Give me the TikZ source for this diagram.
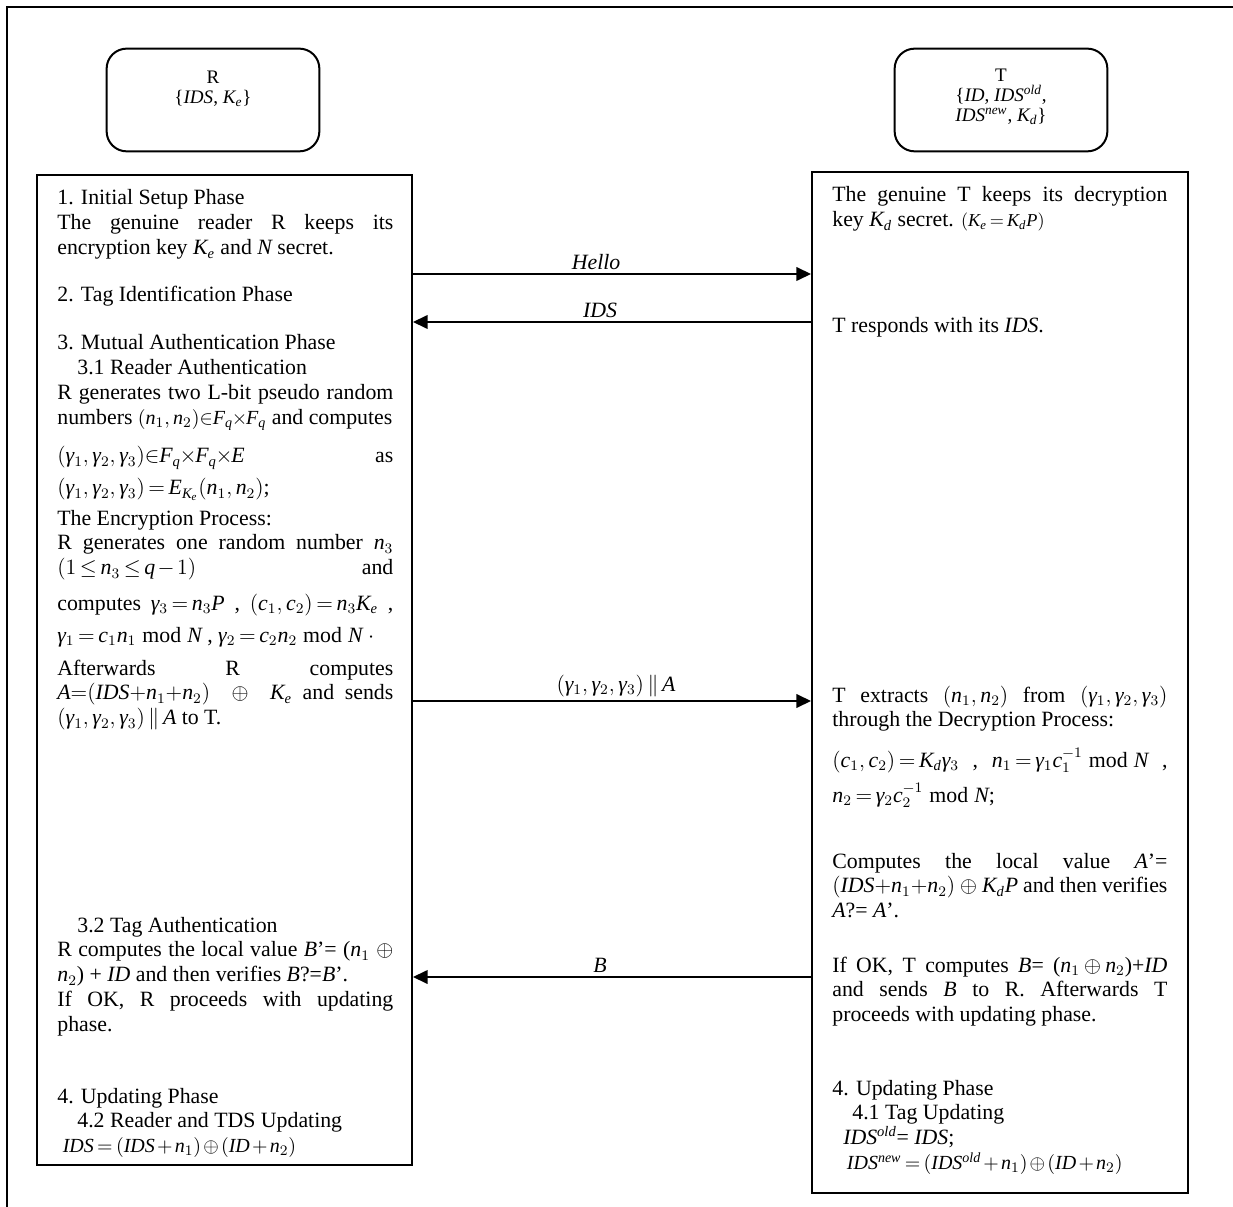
\documentclass[tikz,border=0pt]{standalone}
\usepackage{amsmath}
\usepackage{fontspec}
\setmainfont{Liberation Serif}[NFSSFamily=libser]
\usetikzlibrary{arrows.meta, positioning}

% Times-like letters in math
\DeclareSymbolFont{tletters}{TU}{libser}{m}{it}
\newcount\lcnt
\lcnt=`A \loop \Umathcode\lcnt="7 \symtletters \lcnt \advance\lcnt 1 \ifnum\lcnt<`[ \repeat
\lcnt=`a \loop \Umathcode\lcnt="7 \symtletters \lcnt \advance\lcnt 1 \ifnum\lcnt<`\{ \repeat
\Umathchardef\gamma="0 \symtletters "03B3
\hyphenpenalty=10000

\tikzset{
  phasebox/.style={draw, line width=1.1pt, inner sep=0pt},
  entbox/.style={draw, line width=1.1pt, rounded corners=11pt,
    minimum width=117pt, minimum height=56.5pt, inner sep=0pt},
  enttxt/.style={anchor=north, align=center, inner sep=0pt,
    font=\fontsize{10.5}{11}\selectfont},
  txtl/.style={anchor=base west, inner sep=0pt, text width=184.8pt, align=justify},
  txtr/.style={txtl, text width=184.3pt},
  msg/.style={line width=0.8pt, -{Triangle[length=8pt, width=7.5pt]}},
  msglbl/.style={above, inner sep=2pt, font=\fontsize{12}{13}\selectfont},
}

\begin{document}
\begin{tikzpicture}[x=0.55pt, y=-0.55pt, font=\fontsize{12}{13.7}\selectfont,
    execute at begin picture={\thickmuskip=3mu plus 2mu\medmuskip=2mu plus 1mu}]
  \useasboundingbox (0,0) rectangle (1233,1207);
  % outer frame
  \draw[line width=1.2pt] (7,1207) -- (7,7) -- (1233,7);

  % reader and tag
  \node[entbox] (rdr) at (213,100) {};
  \node[enttxt] (rdrlbl) at (213,71) {R\\\{\textit{IDS}, $K_e$\}};
  \node[entbox] (tag) at (1001,100) {};
  \node[enttxt] (taglbl) at (1001,69)
    {T\\\{\textit{ID}, \textit{IDS}$^{\mathit{old}}$,\\\textit{IDS}$^{\mathit{new}}$, $K_d$\}};

  % phase boxes
  \node[phasebox, minimum width=375*0.55pt, minimum height=990*0.55pt] (lbox) at (224.5,670) {};
  \node[phasebox, minimum width=376*0.55pt, minimum height=1021*0.55pt] (tbox) at (1000,682.5) {};

  % reader side
  \node[txtl] (a1) at (57,205) {1. Initial Setup Phase\par
    The genuine reader R keeps its\linebreak encryption key $K_e$ and $N$ secret.};
  \node[txtl] (a2) at (57,302) {2. Tag Identification Phase};
  \node[txtl] (a3) at (57,350) {3. Mutual Authentication Phase\par
    \hspace*{11pt}3.1 Reader Authentication\par
    R generates two L-bit pseudo random\linebreak
    numbers {\fontsize{11}{13.7}\selectfont$(n_1,n_2)\!\in\! F_q\!\times\! F_q$} and computes};
  \node[txtl] (a4) at (57,463) {$(\gamma_1,\gamma_2,\gamma_3)\!\in\! F_q\!\times\! F_q\!\times\! E$\hfill as};
  \node[txtl] (a5) at (57,495) {$(\gamma_1,\gamma_2,\gamma_3)=E_{K_e}(n_1,n_2)$;};
  \node[txtl] (a6) at (57,525) {The Encryption Process:\par
    R generates one random number $n_3$\linebreak
    $(1\le n_3\le q-1)$\hfill and};
  \node[txtl] (a7) at (57,610) {computes\hfill$\gamma_3=n_3P$\hfill,\hfill$(c_1,c_2)=n_3K_e$\hfill,};
  \node[txtl] (a8) at (57,642) {$\gamma_1=c_1n_1\bmod N$ , $\gamma_2=c_2n_2\bmod N$ $\cdot$};
  \node[txtl] (a9) at (57,675) {Afterwards R computes\linebreak
    $A{=}(\mathit{IDS}{+}n_1{+}n_2)$\ \ $\oplus$\ \ $K_e$ and sends\linebreak
    $(\gamma_1,\gamma_2,\gamma_3)\,\|\,A$ to T.};
  \node[txtl] (a10) at (57,932) {\hspace*{11pt}3.2 Tag Authentication\par
    R computes the local value $B$'= ($n_1$ $\oplus$\linebreak
    $n_2$) + \textit{ID} and then verifies $B$?=$B$'.\par
    If OK, R proceeds with updating\linebreak phase.};
  \node[txtl] (a11) at (57,1103) {4. Updating Phase\par
    \hspace*{11pt}4.2 Reader and TDS Updating\par
    \hspace*{3pt}{\fontsize{11}{13.7}\selectfont $\mathit{IDS}=(\mathit{IDS}+n_1)\oplus(\mathit{ID}+n_2)$}};

  % tag side
  \node[txtr] (b1) at (832,202) {The genuine T keeps its decryption\linebreak
    key $K_d$ secret. {\fontsize{10}{12}\selectfont $(K_e=K_dP)$}};
  \node[txtr] (b2) at (832,333) {T responds with its \textit{IDS}.};
  \node[txtr] (b3) at (832,702) {T extracts $(n_1,n_2)$ from $(\gamma_1,\gamma_2,\gamma_3)$\linebreak
    through the Decryption Process:};
  \node[txtr] (b4) at (832,767) {$(c_1,c_2)=K_d\gamma_3$\hfill,\hfill$n_1=\gamma_1c_1^{-1}\bmod N$\hfill,};
  \node[txtr] (b5) at (832,802) {$n_2=\gamma_2c_2^{-1}\bmod N$;};
  \node[txtr] (b6) at (832,868) {Computes the local value $A$'=\linebreak
    $(\mathit{IDS}{+}n_1{+}n_2)$ $\oplus$ $K_dP$ and then verifies\linebreak
    $A$?= $A$'.};
  \node[txtr] (b7) at (832,972) {If OK, T computes $B$= ($n_1\oplus n_2$)+\textit{ID}\linebreak
    and sends $B$ to R. Afterwards T\linebreak
    proceeds with updating phase.};
  \node[txtr] (b8) at (832,1095) {4. Updating Phase\par
    \hspace*{11pt}4.1 Tag Updating\par
    \hspace*{6pt}\textit{IDS}$^{\mathit{old}}$= \textit{IDS};\par
    \hspace*{8pt}{\fontsize{11}{13.7}\selectfont $\mathit{IDS}^{\mathit{new}}=(\mathit{IDS}^{\mathit{old}}+n_1)\oplus(\mathit{ID}+n_2)$}};

  % messages
  \draw[msg] (lbox.east |- 0,274) -- node[msglbl, pos=0.46] {\textit{Hello}} (tbox.west |- 0,274);
  \draw[msg] (tbox.west |- 0,322) -- node[msglbl, pos=0.53] {\textit{IDS}} (lbox.east |- 0,322);
  \draw[msg] (lbox.east |- 0,701) -- node[msglbl, pos=0.51] {$(\gamma_1,\gamma_2,\gamma_3)\,\|\,A$} (tbox.west |- 0,701);
  \draw[msg] (tbox.west |- 0,977) -- node[msglbl, pos=0.53] {$B$} (lbox.east |- 0,977);
\end{tikzpicture}
\end{document}
